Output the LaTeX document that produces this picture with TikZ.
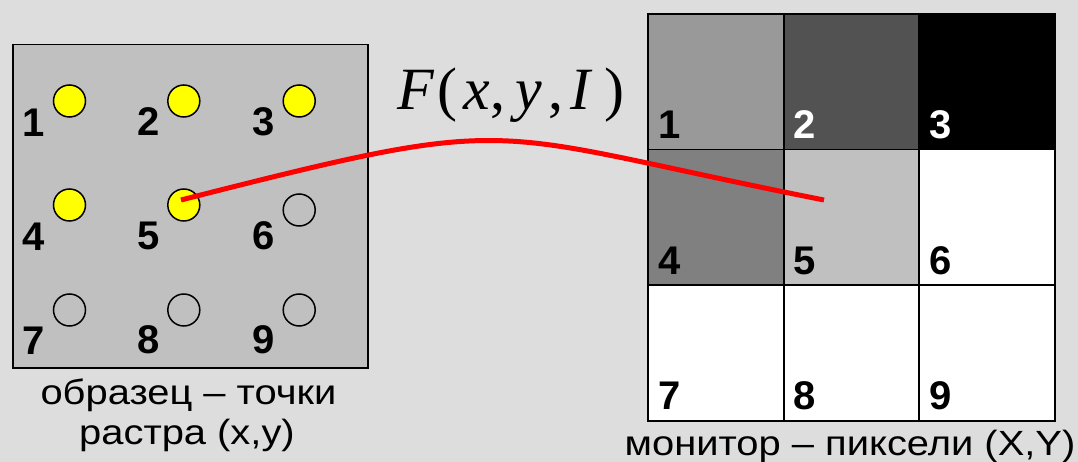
\documentclass[tikz,border=0pt]{standalone}
\usepackage{fontspec}
\setmainfont{Liberation Sans}
\newfontfamily\seriffont{Liberation Serif}
\newfontfamily\capfont[FakeStretch=1.14]{Liberation Sans}
\definecolor{bg}{HTML}{DDDDDD}
\definecolor{boxgray}{HTML}{C0C0C0}
\definecolor{g1}{HTML}{999999}
\definecolor{g2}{HTML}{525252}
\definecolor{g4}{HTML}{808080}
\definecolor{g5}{HTML}{C0C0C0}
\definecolor{dotyellow}{HTML}{FFFF00}
\definecolor{curvered}{HTML}{FF0000}
\begin{document}
\begin{tikzpicture}[x=1pt,y=-1pt,
  dot/.style={circle,draw=black,line width=1.5pt,minimum size=32pt,inner sep=0pt},
  lit/.style={dot,fill=dotyellow},
  unlit/.style={dot,fill=none},
  num/.style={font=\bfseries\fontsize{40}{40}\selectfont,inner sep=0pt,anchor=base west},
  cell/.style={draw=black,line width=1.8pt,minimum size=135.7pt,inner sep=0pt,anchor=north west},
  caption/.style={font=\capfont\fontsize{35}{35}\selectfont,inner sep=0pt,anchor=base}
]
\fill[bg] (0,0) rectangle (1078,462);
\useasboundingbox (0,0) rectangle (1078,462);

% left sample box
\node[draw=black,line width=1.5pt,fill=boxgray,minimum width=355pt,minimum height=323pt,inner sep=0pt,anchor=north west] (sample) at (12,44) {};

\node[lit] (c1) at (69.5,101) {};
\node[lit] (c2) at (183.8,101) {};
\node[lit] (c3) at (299.2,101) {};
\node[lit] (c4) at (69.5,205) {};
\node[lit] (c5) at (183.8,205) {};
\node[unlit] (c6) at (299.2,210) {};
\node[unlit] (c7) at (69.5,310) {};
\node[unlit] (c8) at (183.8,310) {};
\node[unlit] (c9) at (299.2,310) {};

\node[num] (l1) at (22,137) {1};
\node[num] (l2) at (137,136) {2};
\node[num] (l3) at (252,136) {3};
\node[num] (l4) at (22,251) {4};
\node[num] (l5) at (137,250) {5};
\node[num] (l6) at (252,250) {6};
\node[num] (l7) at (22,354) {7};
\node[num] (l8) at (137,353) {8};
\node[num] (l9) at (252,353) {9};

% right monitor grid
\node[cell,fill=g1] (p1) at (647,13) {};
\node[cell,fill=g2] (p2) at (782.7,13) {};
\node[cell,fill=black] (p3) at (918.4,13) {};
\node[cell,fill=g4] (p4) at (647,148.7) {};
\node[cell,fill=g5] (p5) at (782.7,148.7) {};
\node[cell,fill=white] (p6) at (918.4,148.7) {};
\node[cell,fill=white] (p7) at (647,284.4) {};
\node[cell,fill=white] (p8) at (782.7,284.4) {};
\node[cell,fill=white] (p9) at (918.4,284.4) {};

\node[num] (m1) at ([shift={(11,-12)}]p1.south west) {1};
\node[num,text=white] (m2) at ([shift={(11,-12)}]p2.south west) {2};
\node[num,text=white] (m3) at ([shift={(11,-12)}]p3.south west) {3};
\node[num] (m4) at ([shift={(11,-12)}]p4.south west) {4};
\node[num] (m5) at ([shift={(11,-12)}]p5.south west) {5};
\node[num] (m6) at ([shift={(11,-12)}]p6.south west) {6};
\node[num] (m7) at ([shift={(11,-12)}]p7.south west) {7};
\node[num] (m8) at ([shift={(11,-12)}]p8.south west) {8};
\node[num] (m9) at ([shift={(11,-12)}]p9.south west) {9};

% function label
\node[font=\seriffont\fontsize{60}{60}\selectfont,inner sep=0pt,anchor=base west] (fn) at (397,110)
  {\textit{F}\kern3pt(\kern6pt\textit{x}\kern1pt,\kern10pt\textit{y}\kern6pt,\kern7pt\textit{I}\kern12pt)};

% captions
\node[caption] (cap1) at (188.5,404) {образец – точки};
\node[caption] (cap2) at (187,444) {растра (x,y)};
\node[caption] (cap3) at (850,455) {монитор – пиксели (X,Y)};

% mapping curve
\coordinate (s) at (181,200);
\coordinate (e) at (824,200);
\draw[curvered,line width=5pt] (s) .. controls (531,111) and (474,131) .. (e);
\end{tikzpicture}
\end{document}
